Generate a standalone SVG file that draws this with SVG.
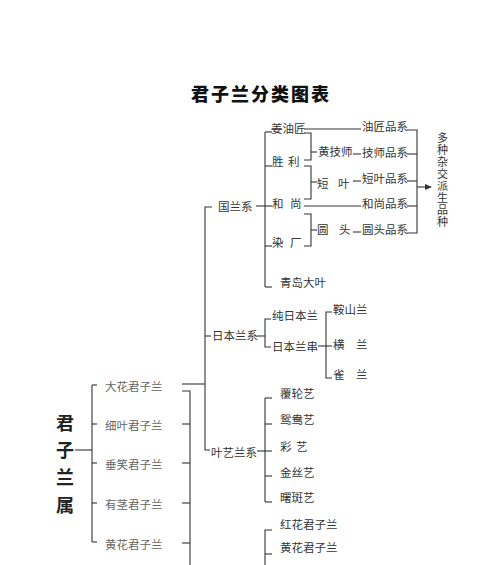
<svg xmlns="http://www.w3.org/2000/svg" width="500" height="565" viewBox="0 0 500 565">
<style>
text{font-family:"Noto Sans CJK SC","Noto Sans",sans-serif;font-size:11.5px;fill:#333}
.g text{fill:#666}
.title{font-size:18px;font-weight:900;fill:#111;letter-spacing:2px}
.big{font-size:18px;font-weight:700;fill:#222}
.vt{font-size:11px}
.conn line,.conn polyline{stroke:#333;stroke-width:1.1;fill:none}
</style>
<defs>
<marker id="arr" viewBox="0 0 8 8" refX="7" refY="4" markerWidth="7" markerHeight="7" markerUnits="userSpaceOnUse" orient="auto">
<path d="M0,0.5 L8,4 L0,7.5 Z" fill="#333"/>
</marker>
</defs>
<rect width="500" height="565" fill="#fff"/>
<text class="title" x="191" y="101">君子兰分类图表</text>

<g class="conn">
<line x1="75" y1="450" x2="92" y2="450"/>
<line x1="92" y1="385" x2="92" y2="542"/>
<line x1="92" y1="385" x2="97" y2="385"/>
<line x1="92" y1="424" x2="97" y2="424"/>
<line x1="92" y1="463" x2="97" y2="463"/>
<line x1="92" y1="503" x2="97" y2="503"/>
<line x1="92" y1="542" x2="97" y2="542"/>
<line x1="182" y1="384" x2="205" y2="384"/>
<polyline points="182,391 190,391 190,565"/>
<line x1="182" y1="424" x2="190" y2="424"/>
<line x1="182" y1="463" x2="190" y2="463"/>
<line x1="182" y1="503" x2="190" y2="503"/>
<line x1="182" y1="543" x2="190" y2="543"/>
<polyline points="212,207 205,207 205,450 210,450"/>
<line x1="205" y1="336" x2="211" y2="336"/>
<line x1="256" y1="206" x2="272" y2="206"/>
<line x1="265" y1="132" x2="265" y2="287"/>
<line x1="265" y1="132" x2="272" y2="132"/>
<line x1="265" y1="166" x2="272" y2="166"/>
<line x1="265" y1="246" x2="272" y2="246"/>
<line x1="265" y1="287" x2="272" y2="287"/>
<polyline points="304,133 311,133 311,160 304,160"/>
<line x1="311" y1="152" x2="317" y2="152"/>
<polyline points="304,166 311,166 311,199 304,199"/>
<line x1="311" y1="182" x2="317" y2="182"/>
<polyline points="304,214 311,214 311,246 304,246"/>
<line x1="311" y1="230" x2="317" y2="230"/>
<line x1="304" y1="129" x2="361" y2="129"/>
<line x1="304" y1="206" x2="361" y2="206"/>
<line x1="353" y1="154" x2="361" y2="154"/>
<line x1="353" y1="181" x2="361" y2="181"/>
<line x1="353" y1="232" x2="361" y2="232"/>
<polyline points="407,130 417,130 417,233 407,233"/>
<line x1="407" y1="154" x2="417" y2="154"/>
<line x1="407" y1="181" x2="417" y2="181"/>
<line x1="407" y1="206" x2="417" y2="206"/>
<line x1="417" y1="187" x2="431" y2="187" marker-end="url(#arr)"/>
<line x1="257" y1="336" x2="265" y2="336"/>
<polyline points="271,319 265,319 265,347 271,347"/>
<line x1="318" y1="346" x2="332" y2="346"/>
<polyline points="332,312 326,312 326,378 332,378"/>
<line x1="257" y1="451" x2="265" y2="451"/>
<line x1="265" y1="398" x2="265" y2="502"/>
<line x1="265" y1="398" x2="272" y2="398"/>
<line x1="265" y1="424" x2="272" y2="424"/>
<line x1="265" y1="451" x2="272" y2="451"/>
<line x1="265" y1="476" x2="272" y2="476"/>
<line x1="265" y1="502" x2="272" y2="502"/>
<polyline points="272,530 265,530 265,565"/>
<line x1="265" y1="554" x2="272" y2="554"/>
</g>

<g id="root"><text class="big" x="56 56 56 56" y="430 457 484 512">君子兰属</text></g>
<g class="g" id="species">
<text x="105" y="391">大花君子兰</text>
<text x="105" y="430">细叶君子兰</text>
<text x="105" y="469">垂笑君子兰</text>
<text x="105" y="509">有茎君子兰</text>
<text x="105" y="549">黄花君子兰</text>
</g>
<g id="guolan">
<text x="218" y="211">国兰系</text>
<text x="271" y="133">姜油匠</text>
<text x="272 284 288" y="166">胜 利</text>
<text x="272 284 290" y="208">和 尚</text>
<text x="272 284 290" y="247">染 厂</text>
<text x="280" y="287">青岛大叶</text>
<text x="318" y="156">黄技师</text>
<text x="317 330 338" y="188">短 叶</text>
<text x="317 330 339" y="234">圆 头</text>
<text x="362" y="131">油匠品系</text>
<text x="362" y="157">技师品系</text>
<text x="362" y="183">短叶品系</text>
<text x="362" y="208">和尚品系</text>
<text x="362" y="234">圆头品系</text>
<text class="vt" x="437 437 437 437 437 437 437 437" y="142 154 166 178 190 202 214 226">多种杂交派生品种</text>
</g>
<g id="riben">
<text x="212" y="340">日本兰系</text>
<text x="272" y="320">纯日本兰</text>
<text x="272" y="351">日本兰串</text>
<text x="333" y="314">鞍山兰</text>
<text x="333 345 356" y="349">横 兰</text>
<text x="333 345 356" y="379">雀 兰</text>
</g>
<g id="yeyi">
<text x="211" y="457">叶艺兰系</text>
<text x="280" y="398">覆轮艺</text>
<text x="280" y="424">鸳鸯艺</text>
<text x="280 292 296" y="451">彩 艺</text>
<text x="280" y="477">金丝艺</text>
<text x="280" y="502">曙斑艺</text>
</g>
<g id="flower">
<text x="280" y="529">红花君子兰</text>
<text x="280" y="552">黄花君子兰</text>
</g>
</svg>
